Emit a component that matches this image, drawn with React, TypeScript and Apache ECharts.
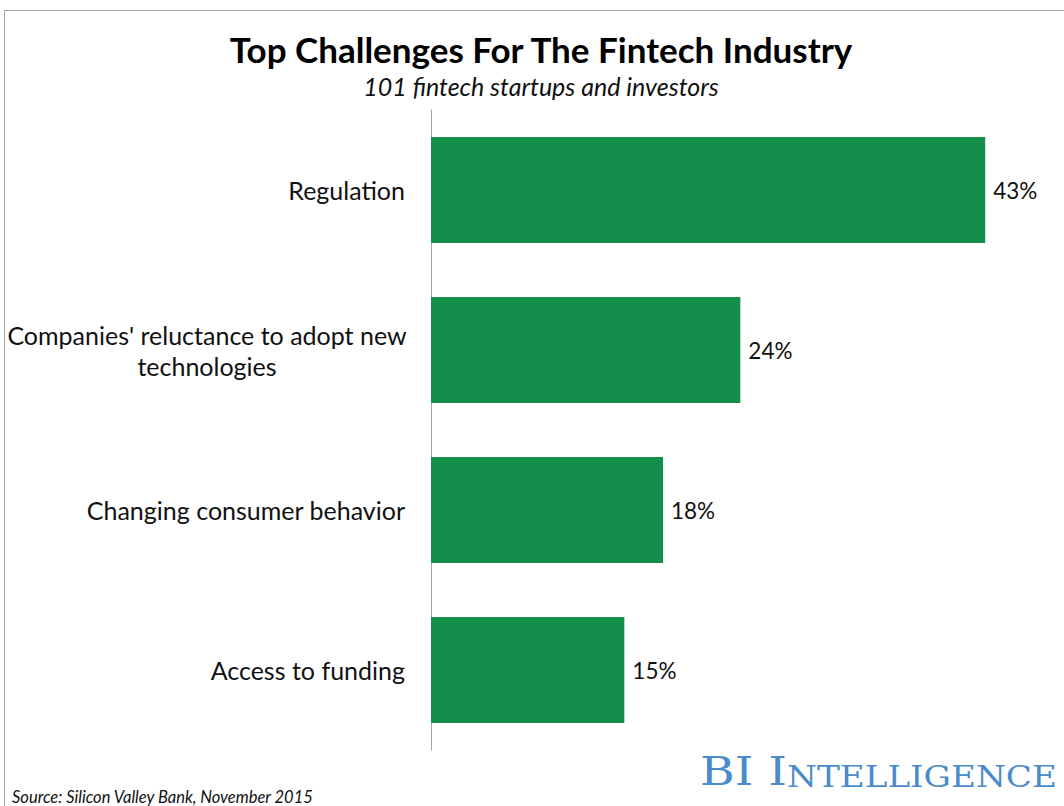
import React, { useEffect, useRef } from "react";
import * as echarts from "echarts";

const categories = [
  "Regulation",
  "Companies' reluctance to adopt new\ntechnologies",
  "Changing consumer behavior",
  "Access to funding",
];
const values = [43, 24, 18, 15];

const titleText = "Top Challenges For The Fintech Industry";
const subtitleText = "101 fintech startups and investors";
const sourceText = "Source: Silicon Valley Bank, November 2015";

const FONT = "Lato, 'Open Sans', sans-serif";
const BAR = "#138e4b";

export default function App() {
  const ref = useRef<HTMLDivElement>(null);
  useEffect(() => {
    document.body.style.margin = "0";
    const chart = echarts.init(ref.current!, null, { renderer: "svg" });
    chart.setOption({
      animation: false,
      backgroundColor: "#ffffff",
      grid: { left: 431, top: 110, width: 580, height: 640, containLabel: false },
      xAxis: {
        type: "value",
        min: 0,
        max: 45,
        show: false,
      },
      yAxis: {
        type: "category",
        data: categories,
        inverse: true,
        axisLine: { show: true, lineStyle: { color: "#a6a6a6", width: 1 } },
        axisTick: { show: false },
        splitLine: { show: false },
        axisLabel: {
          margin: 26,
          color: "#111111",
          fontFamily: FONT,
          fontSize: 25,
          lineHeight: 31,
          align: "right",
          formatter: (v: string) =>
            v.indexOf("\n") >= 0
              ? v
                  .split("\n")
                  .map((l) => `{c|${l}}`)
                  .join("\n")
              : v,
          rich: {
            c: {
              width: 396,
              align: "center",
              fontFamily: FONT,
              fontSize: 25,
              lineHeight: 31,
              color: "#111111",
            },
          },
        },
      },
      series: [
        {
          type: "bar",
          data: values,
          barWidth: 106,
          itemStyle: { color: BAR },
          label: {
            show: true,
            position: "right",
            distance: 8,
            formatter: "{c}%",
            fontFamily: FONT,
            fontSize: 22.5,
            color: "#111111",
          },
        },
      ],
      graphic: [
        {
          type: "polyline",
          shape: { points: [[4.5, 806], [4.5, 10.5], [1064, 10.5]] },
          style: { stroke: "#a0a0a0", lineWidth: 1, fill: null },
          silent: true,
        },
        {
          type: "text",
          x: 541,
          y: 49,
          style: {
            text: titleText,
            align: "center",
            verticalAlign: "middle",
            fontFamily: FONT,
            fontWeight: "bold",
            fontSize: 35,
            fill: "#000000",
          },
        },
        {
          type: "text",
          x: 541,
          y: 86,
          style: {
            text: subtitleText,
            align: "center",
            verticalAlign: "middle",
            fontFamily: FONT,
            fontStyle: "italic",
            fontSize: 25,
            fill: "#111111",
          },
        },
        {
          type: "text",
          x: 12,
          y: 797,
          style: {
            text: sourceText,
            align: "left",
            verticalAlign: "middle",
            fontFamily: FONT,
            fontStyle: "italic",
            fontSize: 16.5,
            fill: "#111111",
          },
        },
        {
          type: "text",
          x: 700,
          y: 791,
          scaleX: 1.18,
          style: {
            text: "{a|BI I}{b|NTELLIGENCE}",
            align: "left",
            verticalAlign: "bottom",
            rich: {
              a: {
                fontFamily: "'DejaVu Serif', serif",
                fontSize: 40,
                fill: "#4a8bcb",
                color: "#4a8bcb",
                verticalAlign: "bottom",
              },
              b: {
                fontFamily: "'DejaVu Serif', serif",
                fontSize: 29,
                fill: "#4a8bcb",
                color: "#4a8bcb",
                verticalAlign: "bottom",
              },
            },
          },
        },
      ],
    });
    return () => chart.dispose();
  }, []);
  return <div ref={ref} style={{ width: 1064, height: 806 }} />;
}
